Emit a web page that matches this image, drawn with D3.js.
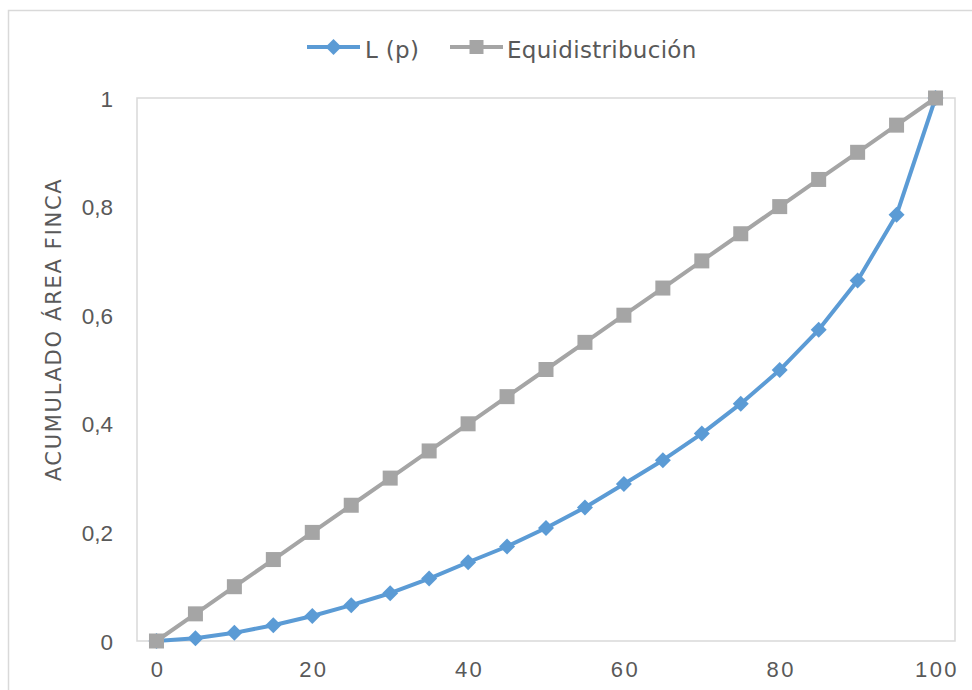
<!DOCTYPE html>
<html>
<head>
<meta charset="utf-8">
<script src="https://cdn.jsdelivr.net/npm/d3@7"></script>
<style>
  body { margin: 0; background: #fff; }
  svg { display: block; font-family: "DejaVu Sans", Verdana, sans-serif; }
</style>
</head>
<body>
<svg id="chart" width="972" height="690"></svg>
<script>
// Chart data
var categories = [0, 5, 10, 15, 20, 25, 30, 35, 40, 45, 50, 55, 60, 65, 70, 75, 80, 85, 90, 95, 100];
var lorenz = [0, 0.005, 0.015, 0.029, 0.046, 0.066, 0.088, 0.115, 0.145, 0.174, 0.208, 0.246, 0.289, 0.333, 0.382, 0.437, 0.499, 0.573, 0.664, 0.785, 1];
var equi = [0, 0.05, 0.1, 0.15, 0.2, 0.25, 0.3, 0.35, 0.4, 0.45, 0.5, 0.55, 0.6, 0.65, 0.7, 0.75, 0.8, 0.85, 0.9, 0.95, 1];
var xLabels = [0, 20, 40, 60, 80, 100];
var yTicks = [0, 0.2, 0.4, 0.6, 0.8, 1];
var seriesNames = ['L (p)', 'Equidistribución'];

var txt = '#595959', grid = '#d9d9d9';
var blue = '#5b9bd5', gray = '#a5a5a5';

var svg = d3.select('#chart');
var plot = {left: 137, right: 955, top: 98, bottom: 641};

// outer chart border (runs off the picture at right and bottom)
svg.append('rect')
    .attr('x', 8.5).attr('y', 10.5)
    .attr('width', 1000).attr('height', 1000)
    .attr('fill', 'none').attr('stroke', grid).attr('stroke-width', 1.5);

var x = d3.scalePoint().domain(categories).range([plot.left, plot.right]).padding(0.5);
var y = d3.scaleLinear().domain([0, 1]).range([plot.bottom, plot.top]);

// plot frame
svg.append('rect')
    .attr('x', plot.left).attr('y', plot.top)
    .attr('width', plot.right - plot.left).attr('height', plot.bottom - plot.top)
    .attr('fill', 'none').attr('stroke', grid).attr('stroke-width', 1.5);

// y axis labels
var fmt = function(v){ return String(v).replace('.', ','); };
var yAxis = svg.append('g')
    .attr('transform', 'translate(' + (plot.left - 24) + ',0)')
    .call(d3.axisLeft(y).tickValues(yTicks).tickSize(0).tickPadding(0).tickFormat(fmt));
yAxis.select('.domain').remove();
yAxis.selectAll('text')
    .attr('fill', txt).style('font-size', '22.5px').attr('dy', '0.36em');

// x axis labels
var xAxis = svg.append('g')
    .attr('transform', 'translate(0,' + plot.bottom + ')')
    .call(d3.axisBottom(x).tickValues(xLabels).tickSize(0).tickPadding(0));
xAxis.select('.domain').remove();
xAxis.selectAll('text')
    .attr('fill', txt).style('font-size', '22px').style('letter-spacing', '2.4px')
    .attr('y', 35.5).attr('dy', 0).attr('dx', 1);

// y axis title
svg.append('text')
    .attr('transform', 'translate(61,329.5) rotate(-90)')
    .attr('text-anchor', 'middle')
    .attr('fill', txt).style('font-size', '21px').style('letter-spacing', '1.7px')
    .text('ACUMULADO ÁREA FINCA');

function diamond(r){ return 'M0,' + (-r) + 'L' + r + ',0L0,' + r + 'L' + (-r) + ',0Z'; }

var line = d3.line()
    .x(function(d, i){ return x(categories[i]); })
    .y(function(d){ return y(d); });

// L(p) series
svg.append('path').datum(lorenz)
    .attr('d', line).attr('fill', 'none')
    .attr('stroke', blue).attr('stroke-width', 4).attr('stroke-linejoin', 'round');
svg.append('g').selectAll('path').data(lorenz).enter()
    .append('path')
      .attr('d', diamond(8))
      .attr('transform', function(d, i){ return 'translate(' + x(categories[i]) + ',' + y(d) + ')'; })
      .attr('fill', blue);

// Equidistribution series
svg.append('path').datum(equi)
    .attr('d', line).attr('fill', 'none')
    .attr('stroke', gray).attr('stroke-width', 4).attr('stroke-linejoin', 'round');
svg.append('g').selectAll('rect').data(equi).enter()
    .append('rect')
      .attr('x', function(d, i){ return x(categories[i]) - 7.5; })
      .attr('y', function(d){ return y(d) - 7.5; })
      .attr('width', 15).attr('height', 15)
      .attr('fill', gray);

//--------------------------------------------------------------
// Legend

var leg = [
    {name: seriesNames[0], color: blue, x0: 307, shape: 'diamond'},
    {name: seriesNames[1], color: gray, x0: 450, shape: 'square'}
];
var lg = svg.append('g').selectAll('g').data(leg).enter()
    .append('g').attr('transform', function(d){ return 'translate(' + d.x0 + ',47)'; });
lg.append('line')
    .attr('x1', 0).attr('x2', 53).attr('y1', 0).attr('y2', 0)
    .attr('stroke', function(d){ return d.color; }).attr('stroke-width', 4);
lg.each(function(d)
{
    var g = d3.select(this);
    if (d.shape == 'diamond')
        g.append('path').attr('d', diamond(8)).attr('transform', 'translate(26.5,0)').attr('fill', d.color);
    else
        g.append('rect').attr('x', 19.5).attr('y', -7).attr('width', 14).attr('height', 14).attr('fill', d.color);
});
lg.append('text')
    .attr('x', function(d){ return d.shape == 'diamond' ? 58 : 57; })
    .attr('y', 10.5)
    .attr('fill', txt).style('font-size', '23px').style('letter-spacing', '0.3px')
    .text(function(d){ return d.name; });
</script>
</body>
</html>
